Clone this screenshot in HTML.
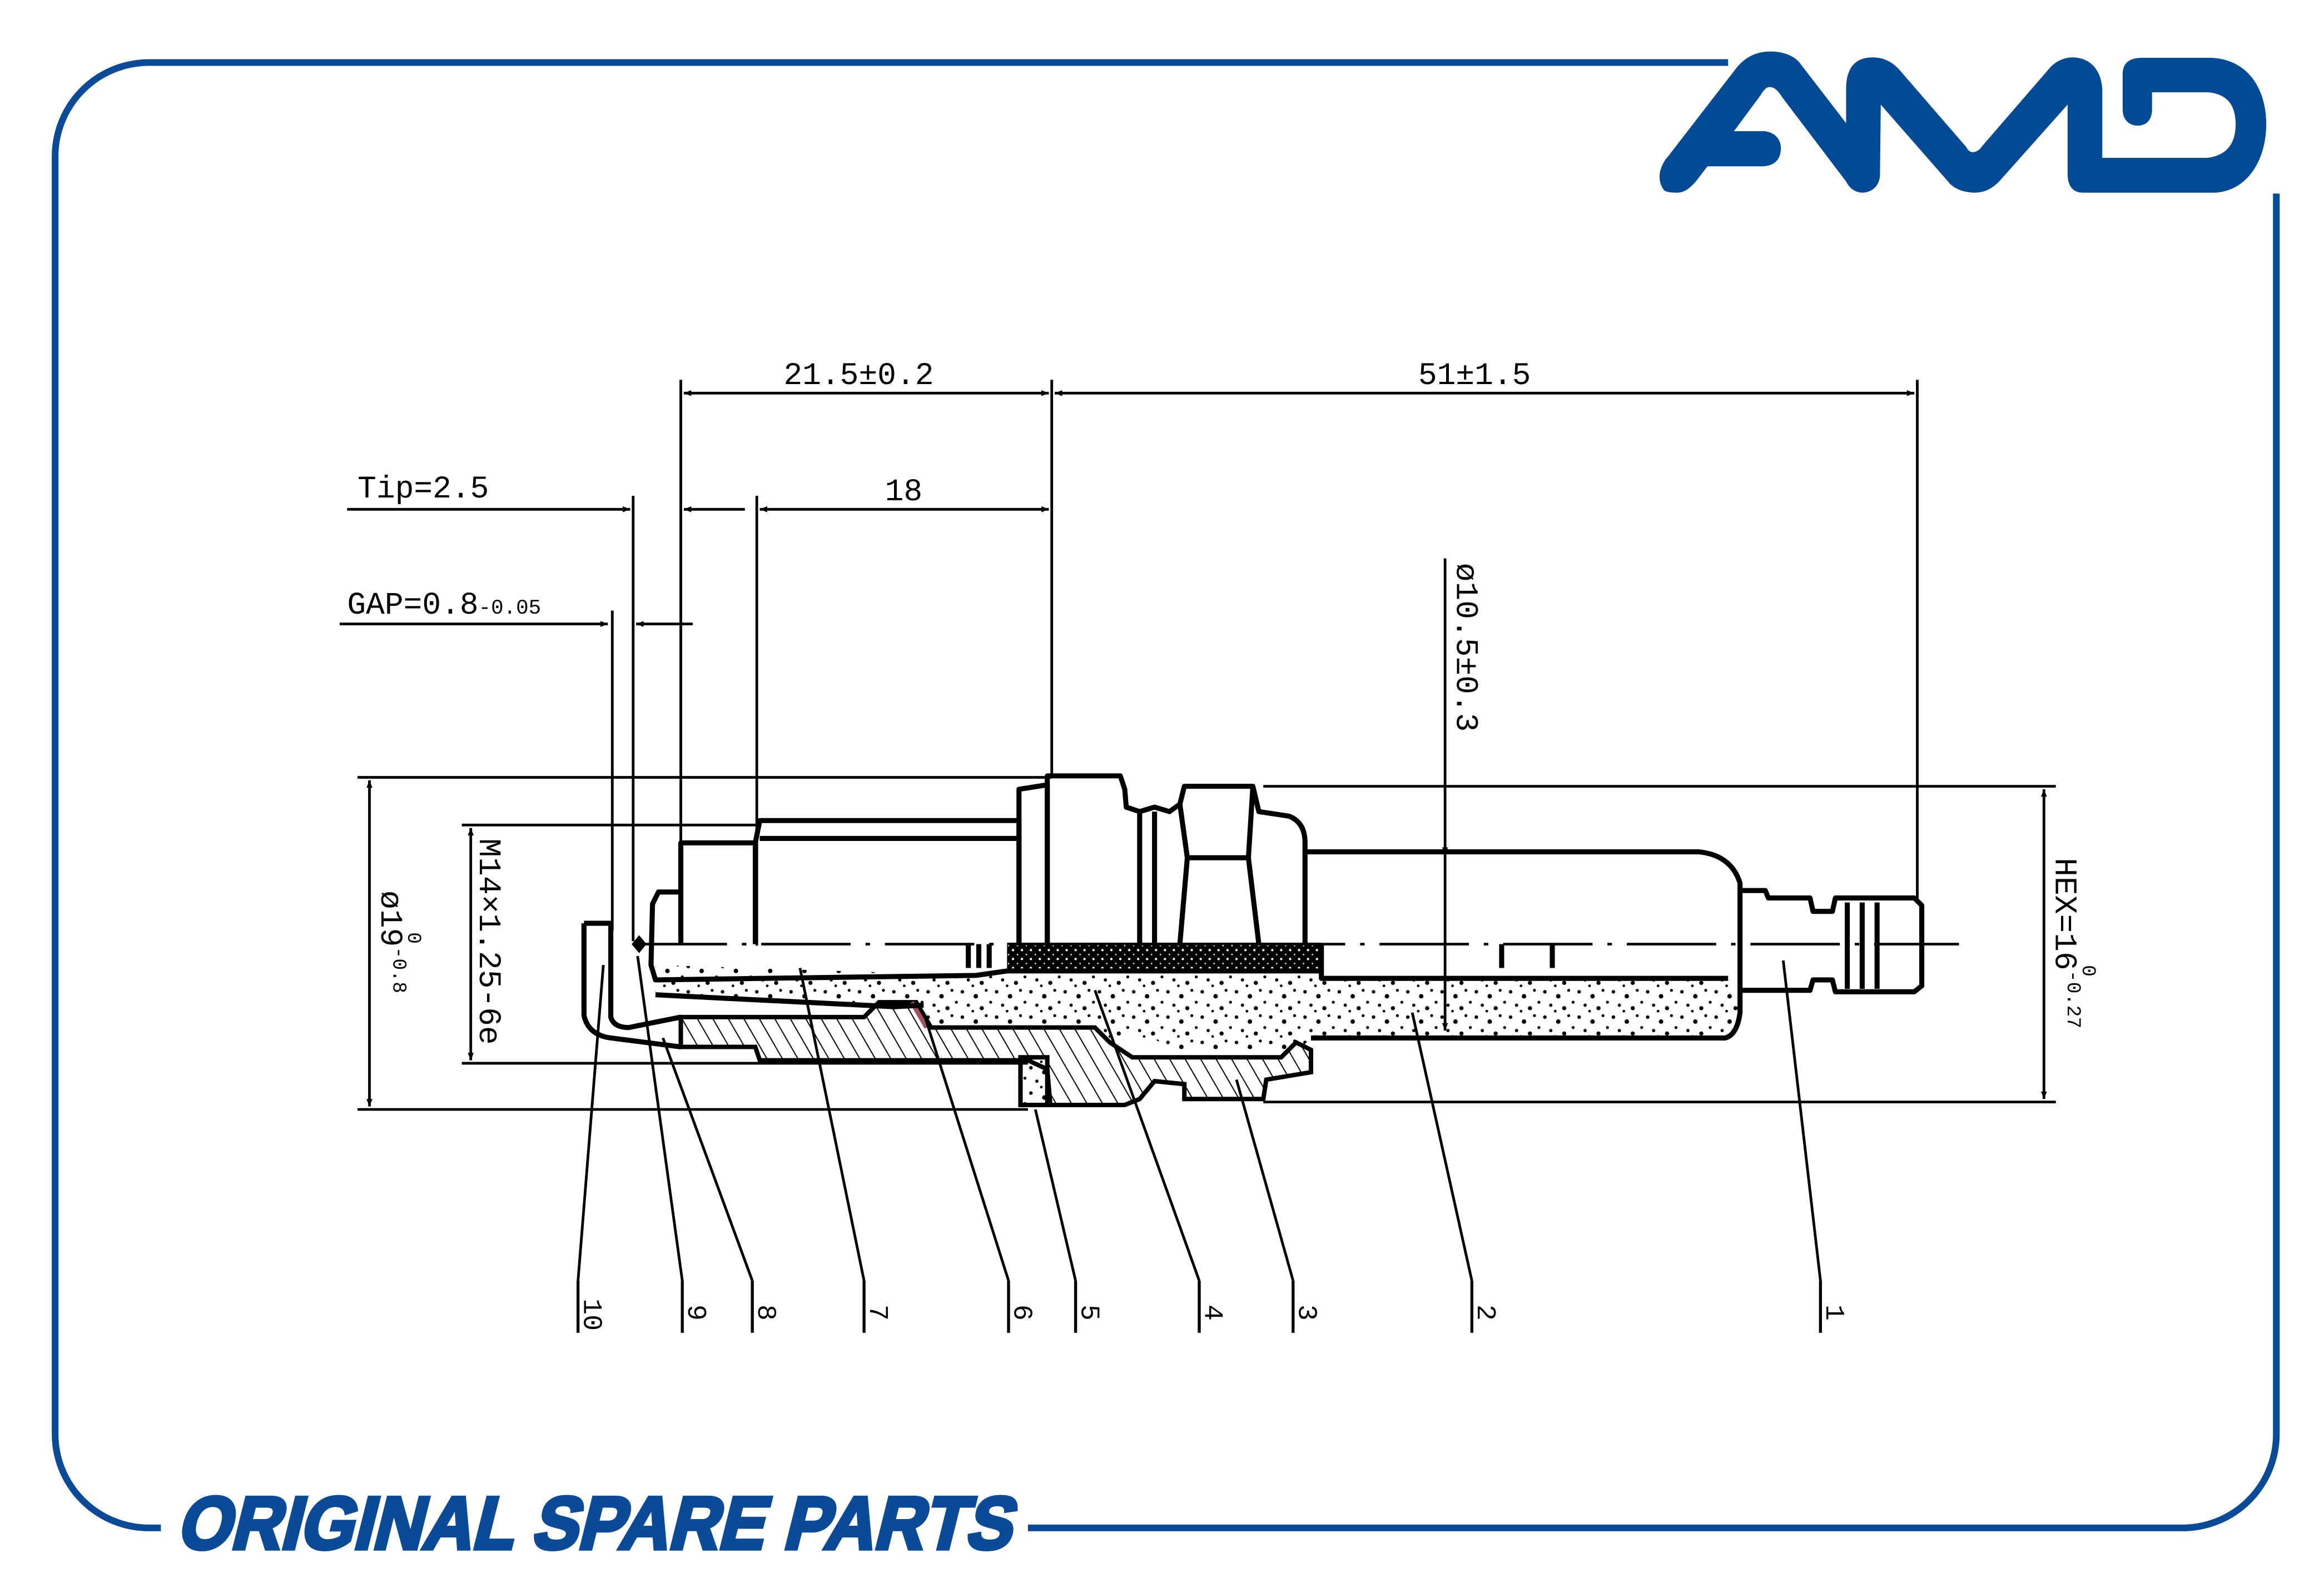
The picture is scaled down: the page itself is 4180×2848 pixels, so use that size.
<!DOCTYPE html>
<html><head><meta charset="utf-8"><style>html,body{margin:0;padding:0;background:#fff}svg{display:block}</style></head><body>
<svg xmlns="http://www.w3.org/2000/svg" width="4180" height="2848" viewBox="0 0 1560 1063" preserveAspectRatio="none">
<defs>
<pattern id="hat" width="9" height="9" patternUnits="userSpaceOnUse" patternTransform="rotate(-30)">
<line x1="0" y1="0" x2="0" y2="9" stroke="#000" stroke-width="1.5"/></pattern>
<pattern id="spk" width="23" height="17" patternUnits="userSpaceOnUse">
<circle cx="2" cy="3" r="1.2"/><circle cx="11" cy="6" r="1.5"/><circle cx="18" cy="2" r="1"/><circle cx="6" cy="12" r="1.1"/><circle cx="15" cy="14" r="1.4"/><circle cx="21" cy="10" r="1"/><circle cx="9" cy="16" r="0.9"/></pattern>
<pattern id="dense" width="6" height="6" patternUnits="userSpaceOnUse">
<rect width="6" height="6" fill="#000"/><circle cx="2" cy="2" r="0.8" fill="#fff"/><circle cx="5" cy="5" r="0.5" fill="#fff"/></pattern>
<marker id="ar" viewBox="0 0 10 10" refX="10" refY="5" markerWidth="12" markerHeight="5" orient="auto-start-reverse" markerUnits="userSpaceOnUse"><path d="M0,1 L10,5 L0,9 Z" fill="#000"/></marker>
</defs>

<!-- frame -->
<path d="M1160,42 L100,42 A63,63 0 0 0 37,105 L37,963 A63,63 0 0 0 100,1026 L108,1026 M690,1026 L1465,1026 A63,63 0 0 0 1528,963 L1528,130" fill="none" stroke="#0a4a96" stroke-width="4.5"/>
<text transform="translate(118,1040) skewX(-14)" x="0" y="0" font-family="Liberation Sans, sans-serif" font-weight="bold" font-size="50" fill="#0a4a96" stroke="#0a4a96" stroke-width="2.5" textLength="560" lengthAdjust="spacingAndGlyphs">ORIGINAL SPARE PARTS</text>

<!-- logo -->
<g transform="translate(1111.9,29.85) scale(0.2738,0.1244)" fill="#024a94">
<path d="M20,790 C0,740 5,660 30,600 L195,130 C220,60 250,38 280,38 C310,38 340,60 355,110 L465,425 L465,240 C465,120 490,70 530,70 C560,70 580,100 595,135 L760,555 C765,580 775,585 780,580 C790,575 795,560 800,545 L965,125 C980,90 1000,70 1020,70 C1060,70 1090,130 1093,240 L1093,612 L1350,612 C1400,600 1420,530 1420,430 C1420,330 1400,265 1350,258 L1215,258 L1215,350 C1215,410 1200,438 1180,438 C1160,438 1143,410 1143,350 L1143,160 C1143,100 1160,72 1190,72 L1360,72 C1450,80 1495,240 1495,430 C1495,620 1450,790 1370,800 L1045,800 C1020,800 1008,760 1008,700 L1008,325 L840,740 C820,785 800,800 780,800 C760,800 730,785 715,740 L550,325 L548,700 C548,770 525,800 505,800 C485,800 472,770 465,740 L310,290 C300,255 290,230 278,230 C268,230 262,250 255,275 L190,468 L265,468 C290,475 305,510 305,560 C305,620 290,655 260,658 L125,658 L100,730 C80,785 65,800 50,800 C40,800 30,800 20,790 Z"/>
</g>

<g font-family="Liberation Mono, monospace" font-size="21" fill="#000">
<g stroke="#000" stroke-width="1.8" fill="none">
<line x1="457" y1="255" x2="457" y2="566"/>
<line x1="706" y1="255" x2="706" y2="522"/>
<line x1="1287" y1="255" x2="1287" y2="605"/>
<line x1="459" y1="264" x2="704" y2="264" marker-start="url(#ar)" marker-end="url(#ar)"/>
<line x1="708" y1="264" x2="1285" y2="264" marker-start="url(#ar)" marker-end="url(#ar)"/>
<line x1="233" y1="342" x2="423" y2="342" marker-end="url(#ar)"/>
<line x1="425" y1="333" x2="425" y2="632"/>
<line x1="500" y1="342" x2="459" y2="342" marker-end="url(#ar)"/>
<line x1="508" y1="333" x2="508" y2="635"/>
<line x1="510" y1="342" x2="704" y2="342" marker-start="url(#ar)" marker-end="url(#ar)"/>
<line x1="228" y1="419" x2="408" y2="419" marker-end="url(#ar)"/>
<line x1="411" y1="410" x2="411" y2="625"/>
<line x1="465" y1="419" x2="427" y2="419" marker-end="url(#ar)"/>
<line x1="970" y1="375" x2="970" y2="574" marker-end="url(#ar)"/>
<line x1="970" y1="574" x2="970" y2="692" marker-end="url(#ar)"/>
<line x1="240" y1="522" x2="706" y2="522"/>
<line x1="240" y1="745" x2="690" y2="745"/>
<line x1="248" y1="524" x2="248" y2="743" marker-start="url(#ar)" marker-end="url(#ar)"/>
<line x1="310" y1="554" x2="510" y2="554"/>
<line x1="310" y1="714" x2="690" y2="714"/>
<line x1="316" y1="556" x2="316" y2="712" marker-start="url(#ar)" marker-end="url(#ar)"/>
<line x1="848" y1="528" x2="1380" y2="528"/>
<line x1="848" y1="740" x2="1380" y2="740"/>
<line x1="1372" y1="530" x2="1372" y2="738" marker-start="url(#ar)" marker-end="url(#ar)"/>
</g>
<text x="526" y="258">21.5±0.2</text>
<text x="952" y="258">51±1.5</text>
<text x="240" y="334">Tip=2.5</text>
<text x="594" y="336">18</text>
<text x="233" y="412">GAP=0.8<tspan font-size="14">-0.05</tspan></text>
<text transform="translate(978,378) rotate(90)">ø10.5±0.3</text>
<text transform="translate(256,598) rotate(90)">ø19<tspan font-size="13" dy="-8">-0.8</tspan></text>
<text transform="translate(274,626) rotate(90)" font-size="13">0</text>
<text transform="translate(322,563) rotate(90)">M14×1.25-6e</text>
<text transform="translate(1380,576) rotate(90)">HEX=16<tspan font-size="13" dy="-8">-0.27</tspan></text>
<text transform="translate(1398,648) rotate(90)" font-size="13">0</text>

<path d="M440,648 L655,655 L676,652 L887,652 L887,657 L1160,657 Q1170,668 1168,678 Q1167,692 1160,697 L880,697 L872,705 L790,705 L775,698 L745,698 L735,690 L620,690 L612,675 L440,668 Z" fill="url(#spk)" stroke="none"/>
<rect x="676" y="633" width="211" height="20" fill="url(#dense)"/>
<path d="M457,683 L580,683 L590,673 L615,673 L625,690 L735,690 L745,700 L760,710 L860,710 L870,700 L880,705 L880,720 L850,725 L848,738 L795,738 L795,728 L775,726 L765,738 L755,742 L705,742 L703,718 L690,712 L510,712 L507,703 L457,703 Z" fill="url(#hat)" stroke="#000" stroke-width="3"/>
<rect x="685" y="710" width="18" height="32" fill="url(#spk)" stroke="#000" stroke-width="3"/>
<line x1="612" y1="673" x2="622" y2="690" stroke="#a05060" stroke-width="3"/>

<g stroke="#000" stroke-width="3.4" fill="none" stroke-linejoin="round">
<path d="M457,634 L457,566 L507,566 L507,634"/>
<path d="M507,566 L510,551 L684,551 L684,634"/>
<line x1="510" y1="563" x2="684" y2="563"/>
<path d="M684,634 L684,530 L703,527 L703,634"/>
<path d="M703,634 L703,521 L752,521 L755,530 L756,542 L765,545 L775,542 L785,545 L792,540 L795,528 L841,528 L845,545 L865,548 Q876,552 876,566 L876,634"/>
<path d="M792,540 L797,576 L792,634 M841,528 L838,576 L845,634 M797,576 L838,576"/>
<line x1="765" y1="545" x2="765" y2="634"/>
<line x1="775" y1="545" x2="775" y2="634"/>
<path d="M876,572 L1140,572 Q1162,574 1168,593 L1168,680 Q1166,695 1158,697 L880,697"/>
<path d="M1168,598 L1185,598 L1187,603 L1215,603 L1217,612 L1230,612 L1232,603 L1285,603 L1290,608 L1290,662 L1285,666 L1232,666 L1230,658 L1217,658 L1215,665 L1168,665"/>
<line x1="1240" y1="606" x2="1240" y2="664"/><line x1="1250" y1="606" x2="1250" y2="664"/><line x1="1260" y1="606" x2="1260" y2="664"/>
<path d="M457,599 L442,599 L438,607 L437,648 L440,658 L655,655 L676,652 L887,652"/>
<path d="M887,652 L887,634 M887,652 L887,657 L1160,657"/>
<path d="M392,620 L410,620 L410,683 Q412,690 422,690 L457,683 M392,620 L392,682 Q395,695 410,697 L457,703"/>
<path d="M440,668 L600,676 L620,675"/>
<path d="M1008,634 L1008,650 M1042,634 L1042,650"/>
<path d="M650,634 L650,650 M657,634 L657,650 M664,634 L664,650"/>
</g>
<path d="M424,634 L429,628 L434,634 L429,640 Z" fill="#000"/>
<line x1="428" y1="634" x2="1315" y2="634" stroke="#000" stroke-width="1.8" stroke-dasharray="60,10,3,10"/>

<g stroke="#000" stroke-width="1.8">
<line x1="388" y1="860" x2="405" y2="648"/><line x1="458" y1="860" x2="428" y2="642"/>
<line x1="505" y1="860" x2="445" y2="697"/><line x1="580" y1="860" x2="537" y2="650"/>
<line x1="677" y1="860" x2="620" y2="680"/><line x1="722" y1="860" x2="695" y2="745"/>
<line x1="805" y1="860" x2="735" y2="665"/><line x1="868" y1="860" x2="830" y2="725"/>
<line x1="988" y1="860" x2="948" y2="680"/><line x1="1222" y1="860" x2="1197" y2="645"/>
<g stroke-width="2">
<line x1="388" y1="860" x2="388" y2="895"/><line x1="458" y1="860" x2="458" y2="895"/><line x1="505" y1="860" x2="505" y2="895"/><line x1="580" y1="860" x2="580" y2="895"/><line x1="677" y1="860" x2="677" y2="895"/><line x1="722" y1="860" x2="722" y2="895"/><line x1="805" y1="860" x2="805" y2="895"/><line x1="868" y1="860" x2="868" y2="895"/><line x1="988" y1="860" x2="988" y2="895"/><line x1="1222" y1="860" x2="1222" y2="895"/>
</g></g>
<g font-size="18">
<text transform="translate(392,872) rotate(90)">10</text>
<text transform="translate(462,876) rotate(90)">9</text>
<text transform="translate(509,876) rotate(90)">8</text>
<text transform="translate(584,876) rotate(90)">7</text>
<text transform="translate(681,876) rotate(90)">6</text>
<text transform="translate(726,876) rotate(90)">5</text>
<text transform="translate(809,876) rotate(90)">4</text>
<text transform="translate(872,876) rotate(90)">3</text>
<text transform="translate(992,876) rotate(90)">2</text>
<text transform="translate(1226,876) rotate(90)">1</text>
</g>
</g>
</svg>
</body></html>
